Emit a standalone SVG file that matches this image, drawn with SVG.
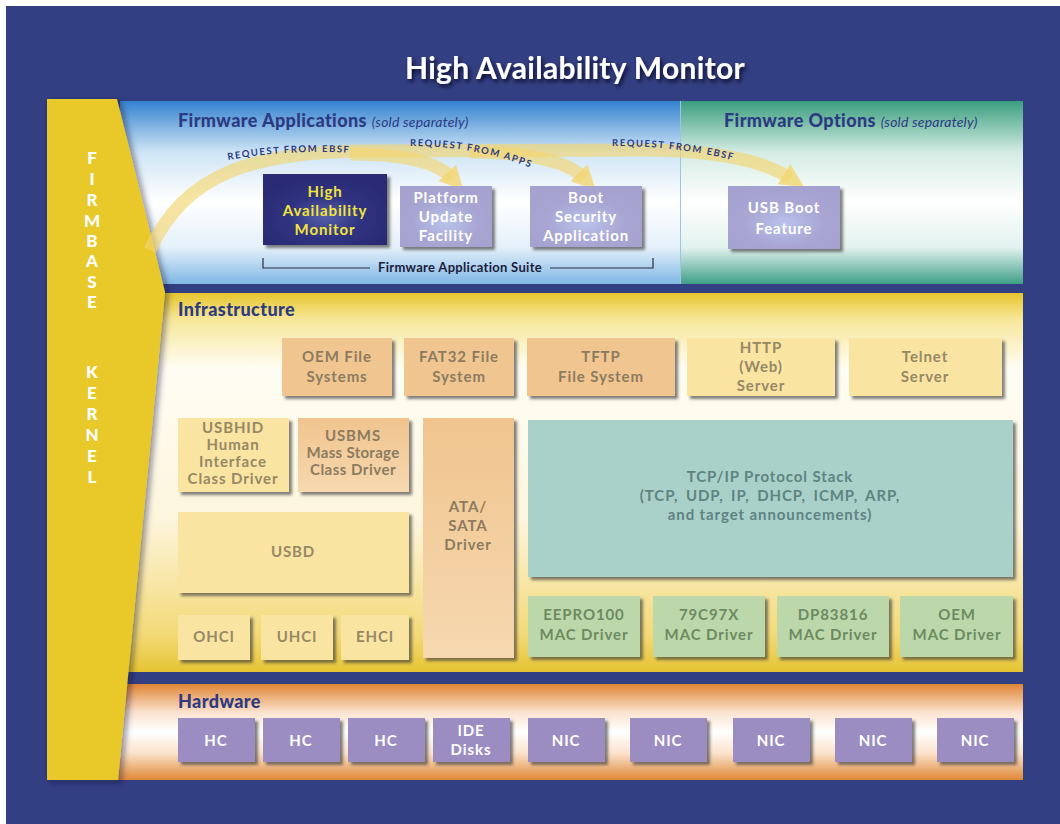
<svg xmlns="http://www.w3.org/2000/svg" width="1060" height="824" viewBox="0 0 1060 824">
  <defs>
    <style>
      .t { font-family: Lato, "Open Sans", "DejaVu Sans", sans-serif; font-weight: bold; text-anchor: middle; letter-spacing: 0.9px; }
      .hdr { font-family: Lato, "Open Sans", "DejaVu Sans", sans-serif; font-weight: 900; font-size: 18px; fill: #2c3a82; letter-spacing: 0.4px; }
      .sub { font-weight: normal; font-style: italic; font-size: 14px; letter-spacing: 0.2px; }
      .box { filter: url(#shadow); }
      .app { fill: url(#lavGrad); }
      .appTxt { font-size: 15px; fill: #ffffff; }
      .tan { fill: #f1c590; }
      .pale { fill: #fae4a2; }
      .tanTxt { font-size: 15px; fill: #8c7b5f; }
      .paleTxt { font-size: 15px; fill: #968865; }
      .mac { fill: #bcd8aa; }
      .macTxt { font-size: 15px; fill: #6d8a62; }
      .hw { fill: #9b8dc1; }
      .hwTxt { font-size: 15px; fill: #ffffff; }
      .band { fill: none; stroke: #f2d670; stroke-opacity: 0.65; stroke-width: 13; stroke-linecap: butt; }
      .req { font-family: Lato, "Open Sans", "DejaVu Sans", sans-serif; font-weight: bold; font-size: 9.5px; fill: #2c3a82; letter-spacing: 1.5px; }
      .kern { font-family: Lato, "Open Sans", "DejaVu Sans", sans-serif; font-weight: 900; font-size: 17px; fill: #ffffff; text-anchor: middle; }
    </style>
    <filter id="shadow" x="-10%" y="-10%" width="130%" height="140%">
      <feDropShadow dx="3" dy="3" stdDeviation="1.6" flood-color="#3a3a3a" flood-opacity="0.65"/>
    </filter>
    <filter id="titleShadow" x="-10%" y="-30%" width="120%" height="160%">
      <feDropShadow dx="2" dy="3" stdDeviation="2" flood-color="#000014" flood-opacity="0.8"/>
    </filter>
    <filter id="kernShadow" x="-20%" y="-5%" width="140%" height="110%">
      <feDropShadow dx="3" dy="2" stdDeviation="3" flood-color="#101030" flood-opacity="0.5"/>
    </filter>
    <linearGradient id="appsGrad" x1="0" y1="0" x2="0" y2="1">
      <stop offset="0" stop-color="#3482d0"/>
      <stop offset="0.28" stop-color="#cfe5f6"/>
      <stop offset="0.55" stop-color="#ffffff"/>
      <stop offset="0.8" stop-color="#e4f0fa"/>
      <stop offset="1" stop-color="#7fb6e4"/>
    </linearGradient>
    <linearGradient id="optGrad" x1="0" y1="0" x2="0" y2="1">
      <stop offset="0" stop-color="#3a9e7e"/>
      <stop offset="0.28" stop-color="#d4ece3"/>
      <stop offset="0.55" stop-color="#ffffff"/>
      <stop offset="0.8" stop-color="#e2f2ee"/>
      <stop offset="1" stop-color="#3f9f88"/>
    </linearGradient>
    <linearGradient id="infraGrad" x1="0" y1="0" x2="0" y2="1">
      <stop offset="0" stop-color="#e6c52c"/>
      <stop offset="0.07" stop-color="#f7e79a"/>
      <stop offset="0.2" stop-color="#fffdf4"/>
      <stop offset="0.6" stop-color="#fdf5dc"/>
      <stop offset="0.9" stop-color="#f3da78"/>
      <stop offset="1" stop-color="#e6c433"/>
    </linearGradient>
    <linearGradient id="hwGrad" x1="0" y1="0" x2="0" y2="1">
      <stop offset="0" stop-color="#df8534"/>
      <stop offset="0.3" stop-color="#fbe3d0"/>
      <stop offset="0.5" stop-color="#ffffff"/>
      <stop offset="0.72" stop-color="#fbe2cc"/>
      <stop offset="1" stop-color="#df8836"/>
    </linearGradient>
    <linearGradient id="tanGrad" x1="0" y1="0" x2="0" y2="1">
      <stop offset="0" stop-color="#f0c48e"/>
      <stop offset="1" stop-color="#f6d8b0"/>
    </linearGradient>
    <radialGradient id="navyGrad" cx="0.5" cy="0.6" r="0.6">
      <stop offset="0" stop-color="#5560aa"/>
      <stop offset="0.5" stop-color="#2f3280"/>
      <stop offset="1" stop-color="#2a2b74"/>
    </radialGradient>
    <radialGradient id="lavGrad" cx="0.5" cy="0.6" r="0.6">
      <stop offset="0" stop-color="#b9c3ea"/>
      <stop offset="0.6" stop-color="#a8a5d3"/>
      <stop offset="1" stop-color="#a6a2d0"/>
    </radialGradient>
    <marker id="bandHead" viewBox="0 0 10 10" refX="3" refY="5" markerWidth="24" markerHeight="24" markerUnits="userSpaceOnUse" orient="auto">
      <path d="M0,0 L10,5 L0,10 Z" fill="#f2d670" fill-opacity="0.8"/>
    </marker>
    <path id="reqPath1" d="M 228 160 Q 294 148 366 154"/>
    <path id="reqPath2" d="M 410 146 Q 484 146 546 174"/>
    <path id="reqPath3" d="M 612 146 Q 692 146 756 167"/>
  </defs>

  <!-- page and frame -->
  <rect x="0" y="0" width="1060" height="824" fill="#ffffff"/>
  <rect x="6" y="6" width="1054" height="818" fill="#333f83"/>

  <text class="t" x="575" y="79" font-size="30" fill="#ffffff" style="letter-spacing:0.3px" filter="url(#titleShadow)">High Availability Monitor</text>

  <!-- layer panels -->
  <g id="panel-apps">
    <rect x="120" y="101" width="560" height="183" fill="url(#appsGrad)"/>
    <text class="hdr" x="178" y="127">Firmware Applications <tspan class="sub">(sold separately)</tspan></text>
  </g>
  <g id="panel-options">
    <rect x="680" y="101" width="343" height="183" fill="url(#optGrad)"/>
    <line x1="680.5" y1="101" x2="680.5" y2="284" stroke="#9cc4e6" stroke-width="1"/>
    <text class="hdr" x="724" y="127">Firmware Options <tspan class="sub">(sold separately)</tspan></text>
  </g>
  <g id="panel-infra">
    <rect x="120" y="293" width="903" height="379" fill="url(#infraGrad)"/>
    <text class="hdr" x="178" y="316">Infrastructure</text>
  </g>
  <g id="panel-hw">
    <rect x="110" y="684" width="913" height="96" fill="url(#hwGrad)"/>
    <text class="hdr" x="178" y="708">Hardware</text>
  </g>

  <!-- kernel column -->
  <g id="kernel">
    <path d="M47,99 L117,99 L165,292 L118,780 L47,780 Z" fill="#e9c92b" filter="url(#kernShadow)"/>
    <text class="kern" x="92" y="164">F</text>
    <text class="kern" x="92" y="185">I</text>
    <text class="kern" x="92" y="206">R</text>
    <text class="kern" x="92" y="227">M</text>
    <text class="kern" x="92" y="247">B</text>
    <text class="kern" x="92" y="267">A</text>
    <text class="kern" x="92" y="288">S</text>
    <text class="kern" x="92" y="308">E</text>
    <text class="kern" x="92" y="378">K</text>
    <text class="kern" x="92" y="399">E</text>
    <text class="kern" x="92" y="420">R</text>
    <text class="kern" x="92" y="441">N</text>
    <text class="kern" x="92" y="462">E</text>
    <text class="kern" x="92" y="483">L</text>
  </g>

  <!-- request flows -->
  <g id="connectors">
    <path class="band" d="M 150 250 C 185 172, 255 153, 360 151 L 640 150 C 712 150, 762 160, 790 178" marker-end="url(#bandHead)"/>
    <path class="band" d="M 350 154 C 405 154, 438 163, 452 178" marker-end="url(#bandHead)"/>
    <path class="band" d="M 470 152 C 530 152, 568 162, 584 178" marker-end="url(#bandHead)"/>
    <text class="req"><textPath href="#reqPath1">REQUEST FROM EBSF</textPath></text>
    <text class="req"><textPath href="#reqPath2">REQUEST FROM APPS</textPath></text>
    <text class="req"><textPath href="#reqPath3">REQUEST FROM EBSF</textPath></text>
  </g>

  <!-- firmware applications -->
  <g id="ha-monitor">
    <rect class="box" x="263" y="174" width="124" height="71" fill="url(#navyGrad)"/>
    <text class="t appTxt" x="325" y="197" style="fill:#f2e43a">High</text>
    <text class="t appTxt" x="325" y="216" style="fill:#f2e43a">Availability</text>
    <text class="t appTxt" x="325" y="235" style="fill:#f2e43a">Monitor</text>
  </g>
  <g id="platform-update">
    <rect class="box app" x="400" y="186" width="92" height="61"/>
    <text class="t appTxt" x="446" y="203">Platform</text>
    <text class="t appTxt" x="446" y="222">Update</text>
    <text class="t appTxt" x="446" y="241">Facility</text>
  </g>
  <g id="boot-security">
    <rect class="box app" x="530" y="186" width="112" height="61"/>
    <text class="t appTxt" x="586" y="203">Boot</text>
    <text class="t appTxt" x="586" y="222">Security</text>
    <text class="t appTxt" x="586" y="241">Application</text>
  </g>
  <g id="usb-boot">
    <rect class="box app" x="728" y="186" width="112" height="63"/>
    <text class="t appTxt" x="784" y="213">USB Boot</text>
    <text class="t appTxt" x="784" y="234">Feature</text>
  </g>
  <g id="app-suite">
    <path d="M263,258 L263,268 L370,268 M550,268 L653,268 L653,258" fill="none" stroke="#2a2a40" stroke-width="1.2"/>
    <text class="t" x="460" y="272" font-size="13" fill="#1c1c3a" style="letter-spacing:0.3px">Firmware Application Suite</text>
  </g>

  <!-- file systems and servers -->
  <g id="oem-fs">
    <rect class="box tan" x="282" y="338" width="110" height="58"/>
    <text class="t tanTxt" x="337" y="362">OEM File</text>
    <text class="t tanTxt" x="337" y="382">Systems</text>
  </g>
  <g id="fat32-fs">
    <rect class="box tan" x="404" y="338" width="110" height="58"/>
    <text class="t tanTxt" x="459" y="362">FAT32 File</text>
    <text class="t tanTxt" x="459" y="382">System</text>
  </g>
  <g id="tftp-fs">
    <rect class="box tan" x="527" y="338" width="148" height="58"/>
    <text class="t tanTxt" x="601" y="362">TFTP</text>
    <text class="t tanTxt" x="601" y="382">File System</text>
  </g>
  <g id="http-server">
    <rect class="box pale" x="687" y="338" width="148" height="58"/>
    <text class="t paleTxt" x="761" y="353">HTTP</text>
    <text class="t paleTxt" x="761" y="372">(Web)</text>
    <text class="t paleTxt" x="761" y="391">Server</text>
  </g>
  <g id="telnet-server">
    <rect class="box pale" x="849" y="338" width="153" height="58"/>
    <text class="t paleTxt" x="925" y="362">Telnet</text>
    <text class="t paleTxt" x="925" y="382">Server</text>
  </g>

  <!-- USB stack -->
  <g id="usbhid">
    <rect class="box pale" x="178" y="418" width="111" height="74"/>
    <text class="t paleTxt" x="233" y="433">USBHID</text>
    <text class="t paleTxt" x="233" y="450">Human</text>
    <text class="t paleTxt" x="233" y="467">Interface</text>
    <text class="t paleTxt" x="233" y="484">Class Driver</text>
  </g>
  <g id="usbms">
    <rect class="box" x="298" y="418" width="111" height="74" fill="url(#tanGrad)"/>
    <text class="t tanTxt" x="353" y="441">USBMS</text>
    <text class="t tanTxt" x="353" y="458" style="letter-spacing:0.3px">Mass Storage</text>
    <text class="t tanTxt" x="353" y="475" style="letter-spacing:0.5px">Class Driver</text>
  </g>
  <g id="usbd">
    <rect class="box pale" x="178" y="512" width="231" height="81"/>
    <text class="t paleTxt" x="293" y="557">USBD</text>
  </g>
  <g id="ohci">
    <rect class="box pale" x="178" y="615" width="72" height="45"/>
    <text class="t paleTxt" x="214" y="642">OHCI</text>
  </g>
  <g id="uhci">
    <rect class="box pale" x="261" y="615" width="72" height="45"/>
    <text class="t paleTxt" x="297" y="642">UHCI</text>
  </g>
  <g id="ehci">
    <rect class="box pale" x="341" y="615" width="68" height="45"/>
    <text class="t paleTxt" x="375" y="642">EHCI</text>
  </g>

  <!-- storage driver -->
  <g id="ata-sata">
    <rect class="box" x="423" y="418" width="91" height="240" fill="url(#tanGrad)"/>
    <text class="t tanTxt" x="468" y="512">ATA/</text>
    <text class="t tanTxt" x="468" y="531">SATA</text>
    <text class="t tanTxt" x="468" y="550">Driver</text>
  </g>

  <!-- network stack -->
  <g id="tcpip">
    <rect class="box" x="528" y="420" width="485" height="157" fill="#a9d0c9"/>
    <text class="t" x="770" y="482" font-size="15" fill="#5e8482">TCP/IP Protocol Stack</text>
    <text class="t" x="770" y="501" font-size="15" fill="#5e8482" style="word-spacing:3px">(TCP, UDP, IP, DHCP, ICMP, ARP,</text>
    <text class="t" x="770" y="520" font-size="15" fill="#5e8482">and target announcements)</text>
  </g>
  <g id="mac-eepro100">
    <rect class="box mac" x="528" y="596" width="112" height="61"/>
    <text class="t macTxt" x="584" y="620">EEPRO100</text>
    <text class="t macTxt" x="584" y="640">MAC Driver</text>
  </g>
  <g id="mac-79c97x">
    <rect class="box mac" x="653" y="596" width="112" height="61"/>
    <text class="t macTxt" x="709" y="620">79C97X</text>
    <text class="t macTxt" x="709" y="640">MAC Driver</text>
  </g>
  <g id="mac-dp83816">
    <rect class="box mac" x="777" y="596" width="112" height="61"/>
    <text class="t macTxt" x="833" y="620">DP83816</text>
    <text class="t macTxt" x="833" y="640">MAC Driver</text>
  </g>
  <g id="mac-oem">
    <rect class="box mac" x="900" y="596" width="113" height="61"/>
    <text class="t macTxt" x="957" y="620">OEM</text>
    <text class="t macTxt" x="957" y="640">MAC Driver</text>
  </g>

  <!-- hardware -->
  <g id="hw-hc1">
    <rect class="box hw" x="178" y="718" width="77" height="44"/>
    <text class="t hwTxt" x="216" y="746">HC</text>
  </g>
  <g id="hw-hc2">
    <rect class="box hw" x="263" y="718" width="77" height="44"/>
    <text class="t hwTxt" x="301" y="746">HC</text>
  </g>
  <g id="hw-hc3">
    <rect class="box hw" x="348" y="718" width="77" height="44"/>
    <text class="t hwTxt" x="386" y="746">HC</text>
  </g>
  <g id="hw-ide">
    <rect class="box hw" x="433" y="718" width="77" height="44"/>
    <text class="t hwTxt" x="471" y="736">IDE</text>
    <text class="t hwTxt" x="471" y="755">Disks</text>
  </g>
  <g id="hw-nic1">
    <rect class="box hw" x="528" y="718" width="77" height="44"/>
    <text class="t hwTxt" x="566" y="746">NIC</text>
  </g>
  <g id="hw-nic2">
    <rect class="box hw" x="630" y="718" width="77" height="44"/>
    <text class="t hwTxt" x="668" y="746">NIC</text>
  </g>
  <g id="hw-nic3">
    <rect class="box hw" x="733" y="718" width="77" height="44"/>
    <text class="t hwTxt" x="771" y="746">NIC</text>
  </g>
  <g id="hw-nic4">
    <rect class="box hw" x="835" y="718" width="77" height="44"/>
    <text class="t hwTxt" x="873" y="746">NIC</text>
  </g>
  <g id="hw-nic5">
    <rect class="box hw" x="937" y="718" width="77" height="44"/>
    <text class="t hwTxt" x="975" y="746">NIC</text>
  </g>
</svg>
